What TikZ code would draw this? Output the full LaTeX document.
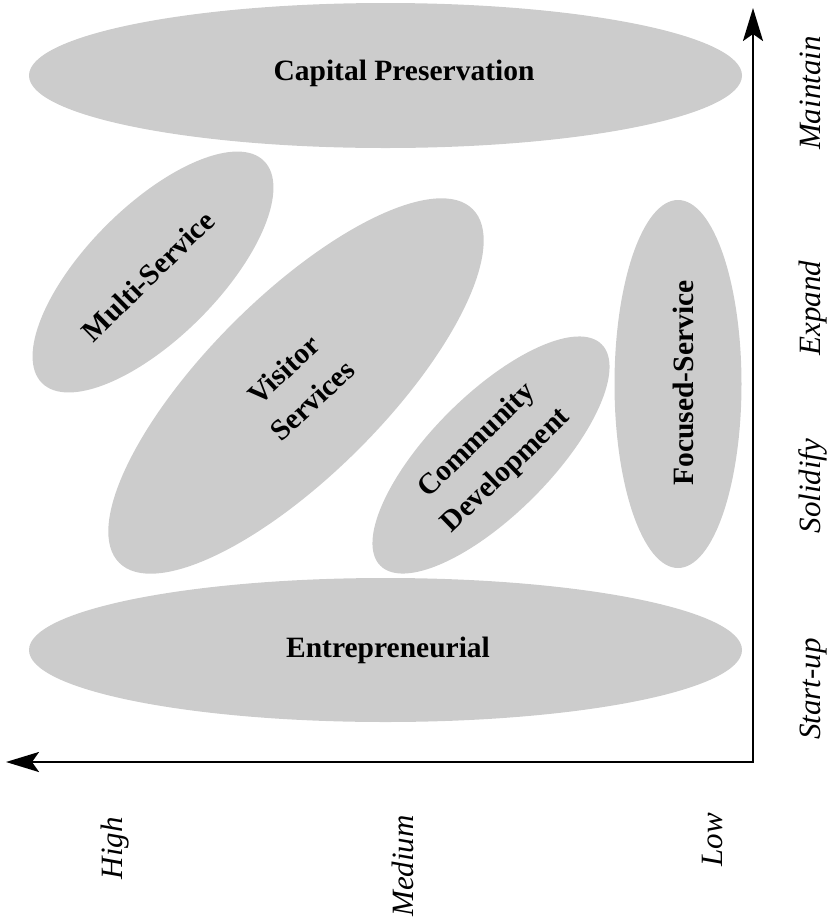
\documentclass[tikz,border=0pt]{standalone}
\usepackage{fontspec}
\setmainfont{Liberation Serif}
\usetikzlibrary{shapes.geometric,arrows.meta}

\tikzset{
  blob/.style={ellipse, fill=blobgray, draw=none, inner sep=0pt},
  tag/.style={font=\bfseries\fontsize{29.5}{42}\selectfont, align=center, inner sep=0pt},
  level/.style={font=\itshape\fontsize{31}{36}\selectfont, rotate=90, anchor=base, inner sep=0pt},
  axis/.style={line width=2.5pt, black,
    arrows={Stealth[length=33pt,width=20pt,inset=7pt]-Stealth[length=33pt,width=20pt,inset=7pt]}}
}
\definecolor{blobgray}{HTML}{CCCCCC}

\begin{document}
\begin{tikzpicture}[x=1pt,y=1pt]
  \useasboundingbox (0,0) rectangle (836,-922);

  % regions
  \node[blob, minimum width=713pt, minimum height=145pt] (cp) at (385.5,-75.5) {};
  \node[blob, minimum width=713pt, minimum height=144pt] (en) at (385.5,-650) {};
  \node[blob, minimum width=314pt, minimum height=132pt, rotate=45] (ms) at (153,-272) {};
  \node[blob, minimum width=500pt, minimum height=178pt, rotate=45] (vs) at (296,-386) {};
  \node[blob, minimum width=313pt, minimum height=120pt, rotate=45] (cd) at (491,-455) {};
  \node[blob, minimum width=127pt, minimum height=368pt] (fs) at (678,-384) {};

  % region labels
  \node[tag, anchor=base] (cpt) at (404,-80) {Capital Preservation};
  \node[tag, anchor=base] (ent) at (388,-657) {Entrepreneurial};
  \node[tag, rotate=44.5] (mst) at (148,-276) {Multi-Service};
  \node[tag, rotate=43] (vst) at (298,-385) {Visitor\\Services};
  \node[tag, rotate=44] (cdt) at (492,-456) {Community\\Development};
  \node[tag, rotate=90] (fst) at (683,-383) {Focused-Service};

  % axes
  \coordinate (ytop) at (753,-8);
  \coordinate (corner) at (753,-762);
  \coordinate (xleft) at (6,-762);
  \draw[axis] (ytop) -- (corner) -- (xleft);

  % stage labels
  \node[level] (l1) at (820,-93) {Maintain};
  \node[level] (l2) at (820,-308) {Expand};
  \node[level] (l3) at (820,-486) {Solidify};
  \node[level] (l4) at (820,-689) {Start-up};

  % degree labels
  \node[level] (d1) at (122,-848) {High};
  \node[level] (d2) at (413,-866) {Medium};
  \node[level] (d3) at (722,-840) {Low};
\end{tikzpicture}
\end{document}
